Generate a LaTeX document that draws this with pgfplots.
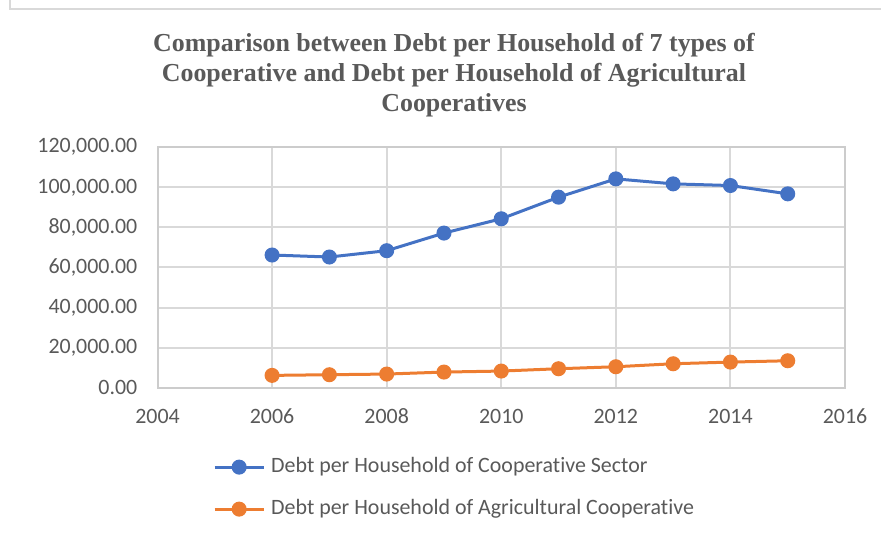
\documentclass[border=0pt]{standalone}
\usepackage{pgfplots}
\pgfplotsset{compat=1.18}
\usepackage{fontspec}
\setmainfont{Carlito}[Ligatures=NoCommon]
\newfontfamily\titlefont{Liberation Serif}
\definecolor{c1}{HTML}{4472C4}
\definecolor{c2}{HTML}{ED7D31}
\definecolor{gridc}{HTML}{D9D9D9}
\definecolor{axisc}{HTML}{CCCCCC}
\definecolor{txt}{HTML}{595959}
\begin{document}
\begin{tikzpicture}[x=1bp,y=1bp]
\path[use as bounding box] (0,0) rectangle (881,536);
\draw[gridc, line width=2bp] (10,536) -- (10,527) -- (881,527);
\begin{scope}[every node/.style={anchor=base, text=txt, font=\titlefont\bfseries\fontsize{26}{30}\selectfont}]
\node at (454,484) {Comparison between Debt per Household of 7 types of};
\node at (454,454) {Cooperative and Debt per Household of Agricultural};
\node at (454,424) {Cooperatives};
\end{scope}
\begin{axis}[
  at={(157.5bp,148.3bp)}, anchor=south west,
  width=687.5bp, height=240.4bp, scale only axis,
  xmin=2004, xmax=2016, ymin=0, ymax=120000,
  xtick={2004,2006,2008,2010,2012,2014,2016},
  ytick={0,20000,40000,60000,80000,100000,120000},
  scaled y ticks=false,
  xmajorgrids, ymajorgrids,
  grid style={draw=gridc, line width=2bp},
  axis line style={draw=axisc, line width=2bp},
  tick style={draw=none},
  major tick length=0pt,
  tick label style={font=\fontsize{22}{26}\selectfont, text=txt},
  /pgf/number format/assume math mode=true,
  xticklabel style={inner sep=0pt, yshift=-21bp, /pgf/number format/1000 sep={}},
  yticklabel style={inner sep=0pt, xshift=-20bp, /pgf/number format/.cd, fixed, fixed zerofill, precision=2, 1000 sep={,}},
  legend style={at={(axis description cs:0.0807,-0.288)}, anchor=north west, draw=none, fill=none,
    inner sep=0pt, row sep=22bp, column sep=6bp,
    nodes={inner sep=0pt, text height=15bp, text depth=5bp, font=\fontsize{22}{26}\selectfont, text=txt}},
  legend cell align=left,
  legend image code/.code={\draw[mark repeat=2,mark phase=2,#1] plot coordinates {(0bp,0bp) (24.5bp,0bp) (49bp,0bp)};},
]
\addplot[c1, line width=3bp, mark=*, mark size=6bp, mark options={solid, fill=c1}] coordinates {
(2006,66224) (2007,65228) (2008,68382) (2009,77178) (2010,84315)
(2011,95104) (2012,104232) (2013,101743) (2014,100913) (2015,96763)};
\addlegendentry{Debt per Household of Cooperative Sector}
\addplot[c2, line width=3bp, mark=*, mark size=6bp, mark options={solid, fill=c2}] coordinates {
(2006,6141) (2007,6473) (2008,6805) (2009,7801) (2010,8299)
(2011,9461) (2012,10456) (2013,11950) (2014,12780) (2015,13444)};
\addlegendentry{Debt per Household of Agricultural Cooperative}
\end{axis}
\end{tikzpicture}
\end{document}
